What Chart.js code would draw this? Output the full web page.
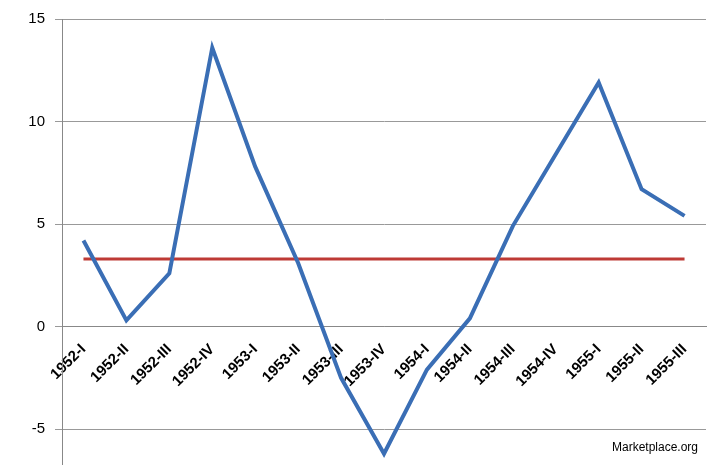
<!DOCTYPE html>
<html><head><meta charset="utf-8">
<script src="https://cdn.jsdelivr.net/npm/chart.js@4"></script>
<style>
html,body{margin:0;padding:0;background:#fff;overflow:hidden;}
#wrap{position:relative;width:722px;height:465px;overflow:hidden;}
#wm{position:absolute;left:612px;top:440px;font:12px Arial,"Liberation Sans",sans-serif;color:#000;}
</style></head>
<body><div id="wrap"><canvas id="c" width="722" height="485"></canvas><div id="wm">Marketplace.org</div></div>
<script>
const categories=["1952-I","1952-II","1952-III","1952-IV","1953-I","1953-II","1953-III","1953-IV","1954-I","1954-II","1954-III","1954-IV","1955-I","1955-II","1955-III"];
const growth=[4.2,0.3,2.6,13.6,7.8,3.1,-2.5,-6.2,-2.1,0.4,4.9,8.4,11.9,6.7,5.4];
const average=[3.3,3.3,3.3,3.3,3.3,3.3,3.3,3.3,3.3,3.3,3.3,3.3,3.3,3.3,3.3];
const yTicks=[-5,0,5,10,15];
new Chart(document.getElementById('c'),{
type:'line',
data:{labels:categories,datasets:[
{data:growth,borderColor:'#3a6eb5',borderWidth:4,pointRadius:0,tension:0},
{data:average,borderColor:'#be3a35',borderWidth:3,pointRadius:0,tension:0}
]},
options:{responsive:false,animation:false,
layout:{padding:{top:19,right:16,bottom:0,left:0}},
plugins:{legend:{display:false},tooltip:{enabled:false}},
scales:{
x:{type:'category',offset:true,position:{y:0},
 grid:{display:false},border:{color:'#888',width:1},
 ticks:{minRotation:45,maxRotation:45,color:'#000',font:{family:'Arial, "Liberation Sans"',size:15,weight:'bold'},padding:6}},
y:{min:-6.8,max:15,
 afterBuildTicks:ax=>{ax.ticks=yTicks.map(v=>({value:v}));},
 afterFit:ax=>{ax.width=62;},
 grid:{color:'#999',tickLength:7},border:{color:'#888'},
 ticks:{color:'#000',font:{family:'Arial, "Liberation Sans"',size:15},padding:10}}
}}});
</script></body></html>
